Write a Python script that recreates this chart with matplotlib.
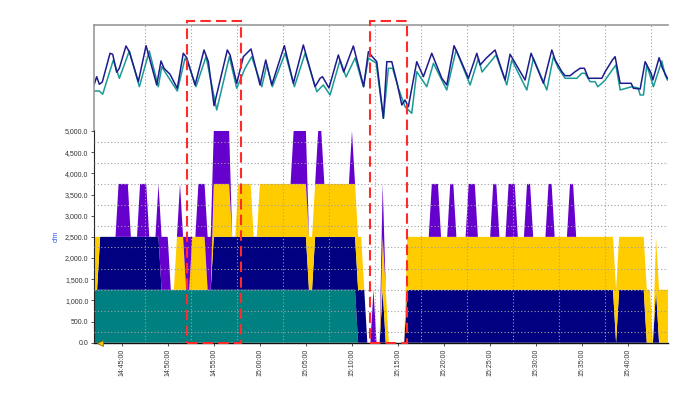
import numpy as np
import matplotlib
matplotlib.use("Agg")
import matplotlib.pyplot as plt
import matplotlib.dates as mdates
from matplotlib.patches import Rectangle
from matplotlib.transforms import blended_transform_factory
from matplotlib.ticker import FixedLocator, FuncFormatter

plt.rcParams['font.family'] = ['Liberation Sans', 'DejaVu Sans']

T0 = np.datetime64('2020-01-01T14:42:00')
T_END = np.datetime64('2020-01-01T15:44:15')
STEP_S = 20          # one sample every 20 s
STAGE_CFM = 1250.0   # each fan stage adds 1,250 cfm

# stage on/off per 20 s sample from 14:42:00 (groups of 10 samples)
teal_on = ("1111111111 1111111111 1111111111 1111111111 1111111111 "
           "1111111111 1111111111 1111111111 1111110000 0000000000 "
           "0000000000 0000000000 0000000000 0000000000 0000000000 "
           "0000000000 0000000000 0000000000 00000000")
navy_on = ("0011111111 1111111111 1100000000 0000000001 1111111111 "
           "1111111111 1111111111 0011111111 1111111110 0000100000 "
           "0011111111 1111111111 1111111111 1111111111 1111111111 "
           "1111111111 1111111111 0111111111 00010000")
yellow_on = ("1100000000 0000000000 0000000111 0011111001 1111100111 "
             "1100111111 1111111111 1111111111 1111111100 0000110000 "
             "0011111111 1111111111 1111111111 1111111111 1111111111 "
             "1111111111 1111111111 1111111111 11011111")
purple_on = ("0000000011 1100011100 0111100010 1100111111 1111100000 "
             "0000000000 0000011111 0001100000 0000100000 0100100000 "
             "0000000000 1110001100 0011100000 1100011100 0110000011 "
             "0000011000 0000000000 0000000000 00000000")

# upper trend lines: minutes after 14:42 and value
navy_min = [0.00, 0.29, 0.58, 0.90, 1.74, 2.03, 2.46, 2.75, 3.47, 3.83,
            4.81, 5.65, 6.81, 7.27, 7.60, 8.25, 9.04, 9.69, 10.06, 10.97,
            11.94, 12.41, 13.03, 14.47, 14.77, 15.49, 16.21, 17.04, 18.02, 18.64,
            19.29, 20.66, 21.64, 22.72, 23.99, 24.54, 24.80, 25.50, 26.52, 27.10,
            28.15, 29.27, 29.78, 30.21, 30.69, 31.41, 31.78, 32.32, 32.86, 33.41,
            33.76, 34.12, 35.03, 35.75, 36.66, 37.75, 38.29, 39.08, 39.55, 40.64,
            41.55, 41.91, 42.56, 43.53, 44.62, 45.16, 46.79, 47.44, 48.78, 49.69,
            50.05, 50.78, 51.13, 51.68, 52.22, 52.76, 53.23, 53.66, 55.12, 55.48,
            56.27, 56.56, 57.11, 58.30, 58.55, 59.28, 59.82, 60.47, 60.66, 61.34,
            61.70, 62.24]
navy_val = [45, 53.3, 45.7, 48, 76.7, 75.7, 57.7, 61.7, 84, 78.3,
            48.3, 84.3, 45, 69, 61.7, 55.7, 41.7, 76.7, 72.3, 45,
            80, 68.3, 24.3, 80, 75, 46.7, 73.3, 81, 45, 70,
            45, 84.3, 46.7, 85, 43.3, 51.7, 53.3, 42, 75, 58,
            84, 43.3, 78.3, 73.3, 68.3, 11.7, 68.3, 68.3, 48.3, 25,
            30, 23.3, 68.3, 53.3, 76.7, 51.7, 45, 84.3, 75, 51.7,
            76.7, 65, 71.7, 80, 50, 75.7, 50, 76.7, 46.7, 80,
            70, 58.3, 54.3, 54.3, 58.3, 61.7, 61.7, 51.7, 51.7, 58.3,
            70, 73.3, 46.7, 46.7, 41.7, 41, 68.3, 56.7, 50, 72.3,
            61.7, 51.7]
teal_min = [0.00, 0.58, 0.94, 2.10, 2.75, 3.83, 4.92, 6.00, 6.98, 7.35,
            7.71, 9.04, 9.88, 10.20, 11.07, 12.16, 13.32, 14.69, 15.49, 16.39,
            17.12, 18.21, 18.75, 19.36, 20.74, 21.75, 22.91, 24.18, 24.89, 25.62,
            26.71, 27.36, 28.34, 29.24, 29.78, 30.62, 31.41, 31.95, 32.41, 33.04,
            33.76, 34.49, 35.03, 36.12, 36.84, 38.29, 39.30, 40.82, 41.72, 42.12,
            43.64, 44.80, 45.35, 46.98, 47.69, 49.15, 49.86, 50.38, 51.13, 52.40,
            52.95, 53.30, 53.85, 54.39, 54.68, 55.12, 55.48, 56.64, 57.11, 58.37,
            59.06, 59.28, 59.64, 60.00, 60.72, 61.63, 61.99, 62.24]
teal_val = [39, 39, 35.7, 70, 51.7, 79, 43.3, 79, 43.3, 63.3,
            58, 39, 71.7, 67, 43.3, 73.3, 20, 73.3, 41.7, 61.7,
            73.3, 43.3, 65, 43.3, 76.7, 43.3, 76.7, 38.3, 45, 35,
            70, 53, 72, 43.3, 71.7, 67, 11.7, 61.7, 61.7, 41.7,
            23.3, 16.7, 58.3, 43.3, 66.7, 40, 80, 45, 71.7, 58,
            75, 45, 70, 40, 71.7, 40, 73.3, 62, 51.7, 51.7,
            56.7, 56.7, 48.3, 48.3, 43.3, 46.7, 50, 65, 40, 43.3,
            42, 35, 35, 65, 43.3, 69, 55, 50]

# highlighted windows (red dashed boxes)
boxes = [('2020-01-01T14:52:08', '2020-01-01T14:58:00'),
         ('2020-01-01T15:12:00', '2020-01-01T15:16:00')]

def stage(s):
    return np.array([int(c) for c in s.replace(' ', '')]) * STAGE_CFM

def minutes(m):
    return T0 + (np.array(m) * 60000).astype('int64').astype('timedelta64[ms]')

teal = stage(teal_on)
navy = stage(navy_on)
yellow = stage(yellow_on)
purple = stage(purple_on)
t = T0 + np.arange(len(teal)) * np.timedelta64(STEP_S, 's')

fig = plt.figure(figsize=(7, 3.94), dpi=100)
ax = fig.add_axes([0.1343, 0.1302, 0.8193, 0.5399])
ax_top = fig.add_axes([0.1343, 0.6701, 0.8193, 0.2652], sharex=ax)

ax.stackplot(t, teal, navy, yellow, purple,
             colors=['#008080', '#000080', '#ffcc00', '#6600cc'], linewidth=0)
ax.set_xlim(T0, T_END)
ax.set_ylim(0, 5024)

ax.yaxis.set_major_locator(FixedLocator(np.arange(0, 5001, 500)))
ax.yaxis.set_major_formatter(FuncFormatter(lambda v, p: f'{v:,.1f}'))
ax.yaxis.set_minor_locator(FixedLocator(np.arange(250, 5000, 500)))

major_t = np.arange(np.datetime64('2020-01-01T14:45'), np.datetime64('2020-01-01T15:41'), np.timedelta64(5, 'm'))
minor_t = np.arange(np.datetime64('2020-01-01T14:47:30'), np.datetime64('2020-01-01T15:44'), np.timedelta64(300, 's'))
ax.xaxis.set_major_locator(FixedLocator(mdates.date2num(major_t)))
ax.xaxis.set_major_formatter(mdates.DateFormatter('%H:%M:%S'))
ax.xaxis.set_minor_locator(FixedLocator(mdates.date2num(minor_t)))

ax.grid(which='minor', color='#a0a0a0', linestyle=(0, (1, 2)), linewidth=0.8)
ax.set_axisbelow(False)
ax.tick_params(which='minor', length=0)
ax.tick_params(axis='y', which='major', labelsize=5, length=2.5, width=0.6, pad=1.5, colors='#333333')
ax.tick_params(axis='x', which='major', labelsize=5, length=2.5, width=0.6, pad=2, colors='#333333',
               labelrotation=90)
for side in ['top', 'right']:
    ax.spines[side].set_visible(False)
ax.spines['left'].set_color('#222222')
ax.spines['bottom'].set_color('#111111')
ax.spines['left'].set_linewidth(0.8)
ax.spines['bottom'].set_linewidth(1.0)

ax.set_ylabel('cfm', color='#3355ee', fontsize=5)
ax.yaxis.set_label_coords(-0.06, 0.5)

ax.plot(np.datetime64('2020-01-01T14:42:40'), 0, marker='<', ms=5, color='#ffcc00',
        mec='#806000', mew=0.5, clip_on=False, zorder=5)

# upper panel
ax_top.plot(minutes(teal_min), teal_val, color='#1a9a96', lw=1.1)
ax_top.plot(minutes(navy_min), navy_val, color='#1c1c8c', lw=1.1)
ax_top.set_ylim(0, 104.5)
ax_top.grid(which='minor', axis='x', color='#a0a0a0', linestyle=(0, (1, 2)), linewidth=0.8)
ax_top.tick_params(which='both', bottom=False, left=False, labelbottom=False, labelleft=False)
for side in ['right', 'bottom']:
    ax_top.spines[side].set_visible(False)
for side in ['top', 'left']:
    ax_top.spines[side].set_color('#999999')
    ax_top.spines[side].set_linewidth(1.2)

tr = blended_transform_factory(ax.transData, fig.transFigure)
for a, b in boxes:
    x0 = mdates.date2num(np.datetime64(a))
    x1 = mdates.date2num(np.datetime64(b))
    fig.add_artist(Rectangle((x0, 0.1302), x1 - x0, 0.8173, transform=tr, fill=False,
                             edgecolor='#ff2a2a', lw=1.5, linestyle=(0, (5, 2.5)), zorder=10))

fig.savefig('out.png', dpi=100)
